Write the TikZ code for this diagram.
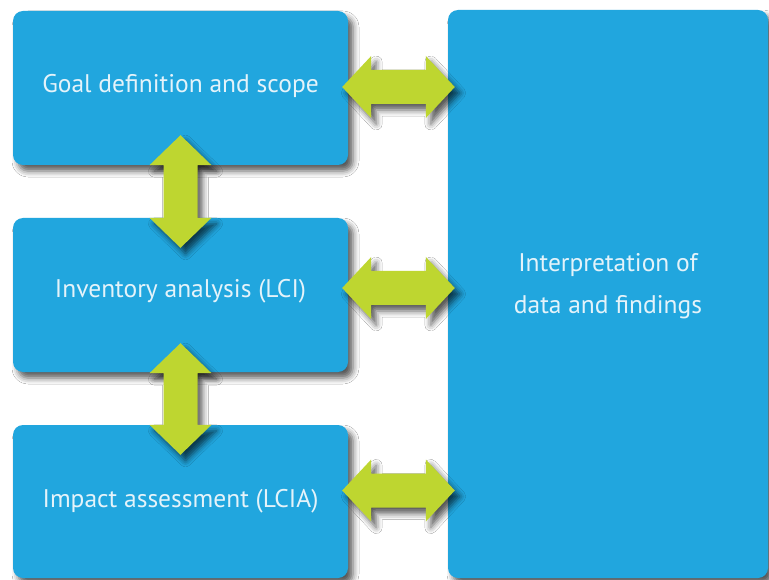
\documentclass[tikz,border=0pt]{standalone}
\usepackage{fontspec}
\setmainfont{PT Sans}
\usetikzlibrary{calc,shadows.blur}
\definecolor{boxblue}{RGB}{33,166,222}
\definecolor{arrowgreen}{RGB}{190,214,48}
\definecolor{boxtext}{RGB}{228,243,250}
\tikzset{
  softshadow/.style={blur shadow={shadow xshift=5pt, shadow yshift=-6pt, shadow blur radius=6pt, shadow opacity=65}},
  box/.style={fill=boxblue, rounded corners=10pt, softshadow, inner sep=0pt},
  boxlabel/.style={text=boxtext, font=\fontsize{25.5}{42}\selectfont, align=center, inner sep=0pt},
  arrowfill/.style={fill=arrowgreen, softshadow},
}
% horizontal double arrow between two tip points
\newcommand{\hdarrow}[2]{%
  \path[arrowfill] let \p1=#1, \p2=#2, \n1={\x2-\x1-58pt} in
    (\p1) -- ++(29pt,31pt) -- ++(0pt,-14pt) -- ++(\n1,0pt) -- ++(0pt,14pt)
    -- (\p2) -- ++(-29pt,-31pt) -- ++(0pt,14pt) -- ++(-\n1,0pt) -- ++(0pt,-14pt) -- cycle;}
% vertical double arrow between top tip and bottom tip
\newcommand{\vdarrow}[2]{%
  \path[arrowfill] let \p1=#1, \p2=#2, \n1={\y1-\y2-60pt} in
    (\p1) -- ++(31pt,-30pt) -- ++(-14pt,0pt) -- ++(0pt,-\n1) -- ++(14pt,0pt)
    -- (\p2) -- ++(-31pt,30pt) -- ++(14pt,0pt) -- ++(0pt,\n1) -- ++(-14pt,0pt) -- cycle;}
\begin{document}
\begin{tikzpicture}[x=1pt,y=-1pt]
  \useasboundingbox[fill=white] (0,0) rectangle (769,580);
  \node[box, minimum width=335pt, minimum height=154pt] (g) at (180.5,88) {};
  \node[box, minimum width=335pt, minimum height=154pt] (i) at (180.5,295) {};
  \node[box, minimum width=335pt, minimum height=153pt] (a) at (180.5,501.5) {};
  \node[box, minimum width=320pt, minimum height=568pt] (r) at (608,294) {};
  \node[boxlabel] (gt) at ($(g.center)+(0,-2)$) {Goal definition and scope};
  \node[boxlabel] (it) at ($(i.center)+(0,-4)$) {Inventory analysis (LCI)};
  \node[boxlabel] (at) at ($(a.center)+(0,0)$) {Impact assessment (LCIA)};
  \node[boxlabel] (rt) at ($(r.center)+(0,-8)$) {Interpretation of\\data and findings};
  % vertical arrows
  \vdarrow{($(g.south)+(0,-30)$)}{($(i.north)+(0,30)$)}
  \vdarrow{($(i.south)+(0,-29)$)}{($(a.north)+(0,30)$)}
  % horizontal arrows
  \hdarrow{($(g.east)+(-6,-1)$)}{($(g.east -| r.west)+(7,-1)$)}
  \hdarrow{($(i.east)+(-6,-7)$)}{($(i.east -| r.west)+(7,-7)$)}
  \hdarrow{($(a.east)+(-6,-11)$)}{($(a.east -| r.west)+(7,-11)$)}
\end{tikzpicture}
\end{document}
